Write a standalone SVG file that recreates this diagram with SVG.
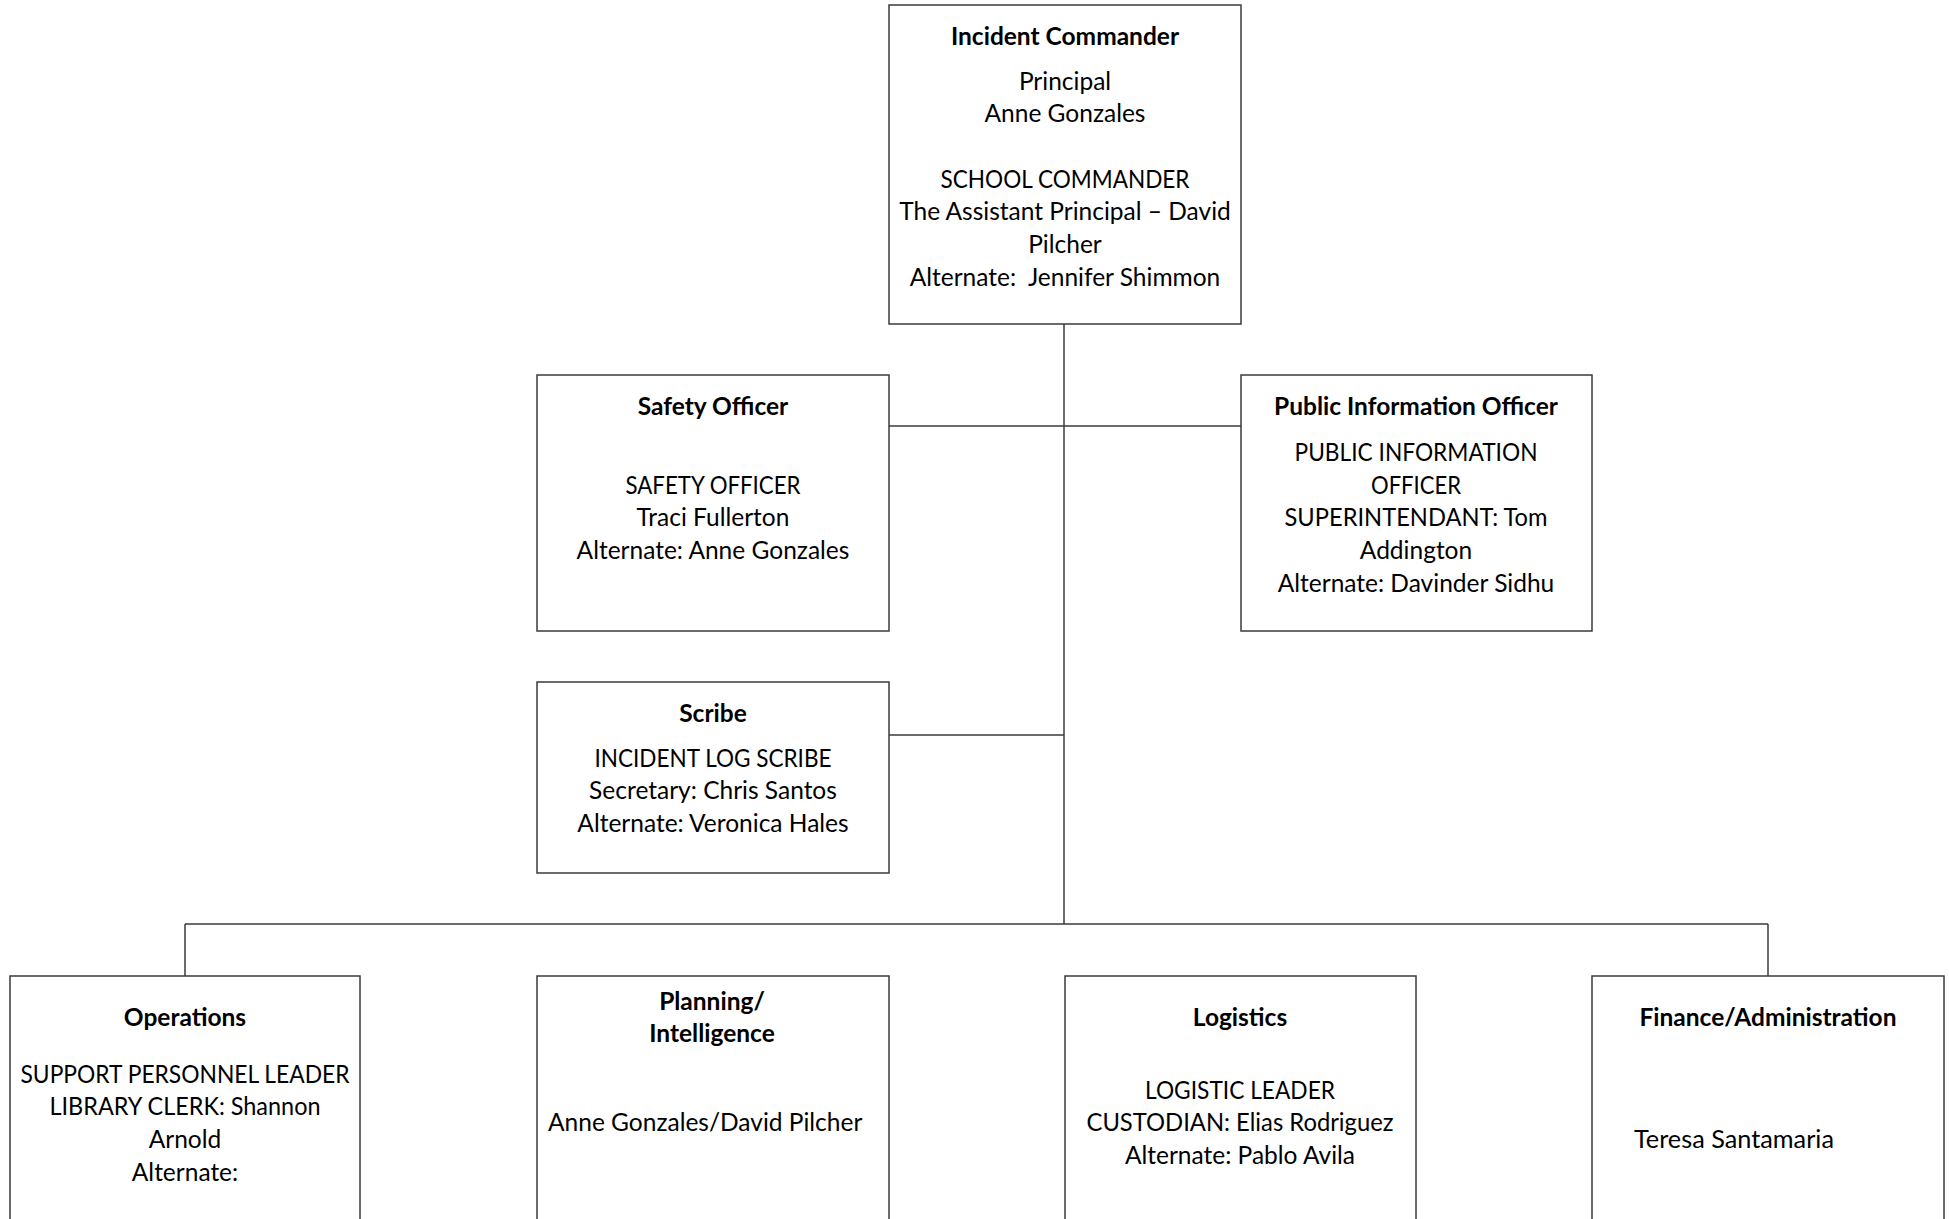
<svg xmlns="http://www.w3.org/2000/svg" width="1949" height="1219" viewBox="0 0 1949 1219">
<style>
.box{fill:#fff;stroke:#3a3a3a;stroke-width:1.5}
.con line{stroke:#3a3a3a;stroke-width:1.5}
text{font-family:Lato,"Liberation Sans",sans-serif;font-size:24.5px;fill:#000;text-anchor:middle}
.t{font-weight:bold}
.l{text-anchor:start}
</style>
<rect width="1949" height="1219" fill="#fff"/>
<g class="con" id="connectors">
<line x1="1064" y1="324" x2="1064" y2="924"/>
<line x1="889" y1="426" x2="1241" y2="426"/>
<line x1="889" y1="735" x2="1064" y2="735"/>
<line x1="185" y1="924" x2="1768" y2="924"/>
<line x1="185" y1="924" x2="185" y2="976"/>
<line x1="1768" y1="924" x2="1768" y2="976"/>
</g>
<g id="incident-commander">
<rect class="box" x="889" y="5" width="352" height="319"/>
<text class="t" x="1065" y="44.5">Incident Commander</text>
<text x="1065" y="89.5">Principal</text>
<text x="1065" y="122.2">Anne Gonzales</text>
<text x="1065" y="187.6" textLength="249" lengthAdjust="spacingAndGlyphs">SCHOOL COMMANDER</text>
<text x="1065" y="220.3">The Assistant Principal – David</text>
<text x="1065" y="253">Pilcher</text>
<text x="1065" y="285.7" xml:space="preserve">Alternate:  Jennifer Shimmon</text>
</g>
<g id="safety-officer">
<rect class="box" x="537" y="375" width="352" height="256"/>
<text class="t" x="713" y="415">Safety Officer</text>
<text x="713" y="493.5" textLength="175" lengthAdjust="spacingAndGlyphs">SAFETY OFFICER</text>
<text x="713" y="526.2">Traci Fullerton</text>
<text x="713" y="558.9">Alternate: Anne Gonzales</text>
</g>
<g id="public-information-officer">
<rect class="box" x="1241" y="375" width="351" height="256"/>
<text class="t" x="1416" y="415">Public Information Officer</text>
<text x="1416" y="461" textLength="243" lengthAdjust="spacingAndGlyphs">PUBLIC INFORMATION</text>
<text x="1416" y="493.7" textLength="90" lengthAdjust="spacingAndGlyphs">OFFICER</text>
<text x="1416" y="526.4" textLength="263" lengthAdjust="spacingAndGlyphs">SUPERINTENDANT: Tom</text>
<text x="1416" y="559.1">Addington</text>
<text x="1416" y="591.8">Alternate: Davinder Sidhu</text>
</g>
<g id="scribe">
<rect class="box" x="537" y="682" width="352" height="191"/>
<text class="t" x="713" y="722">Scribe</text>
<text x="713" y="766.5" textLength="237" lengthAdjust="spacingAndGlyphs">INCIDENT LOG SCRIBE</text>
<text x="713" y="799.2">Secretary: Chris Santos</text>
<text x="713" y="831.9">Alternate: Veronica Hales</text>
</g>
<g id="operations">
<rect class="box" x="10" y="976" width="350" height="260"/>
<text class="t" x="185" y="1025.5">Operations</text>
<text x="185" y="1082.5" textLength="329" lengthAdjust="spacingAndGlyphs">SUPPORT PERSONNEL LEADER</text>
<text x="185" y="1115.2" textLength="271" lengthAdjust="spacingAndGlyphs">LIBRARY CLERK: Shannon</text>
<text x="185" y="1147.9">Arnold</text>
<text x="185" y="1180.6">Alternate:</text>
</g>
<g id="planning-intelligence">
<rect class="box" x="537" y="976" width="352" height="260"/>
<text class="t" x="712" y="1009.5">Planning/</text>
<text class="t" x="712" y="1042.2">Intelligence</text>
<text class="l" x="548" y="1130.5">Anne Gonzales/David Pilcher</text>
</g>
<g id="logistics">
<rect class="box" x="1065" y="976" width="351" height="260"/>
<text class="t" x="1240" y="1025.5">Logistics</text>
<text x="1240" y="1098.5" textLength="190" lengthAdjust="spacingAndGlyphs">LOGISTIC LEADER</text>
<text x="1240" y="1131.2" textLength="307" lengthAdjust="spacingAndGlyphs">CUSTODIAN: Elias Rodriguez</text>
<text x="1240" y="1163.9">Alternate: Pablo Avila</text>
</g>
<g id="finance-administration">
<rect class="box" x="1592" y="976" width="352" height="260"/>
<text class="t" x="1768" y="1025.5">Finance/Administration</text>
<text class="l" x="1634" y="1147.5" textLength="200" lengthAdjust="spacingAndGlyphs">Teresa Santamaria</text>
</g>
</svg>
